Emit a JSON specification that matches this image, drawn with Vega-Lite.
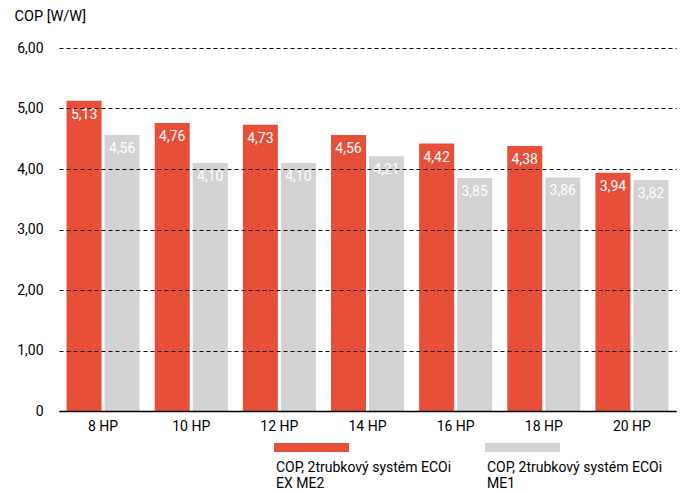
{
  "$schema": "https://vega.github.io/schema/vega-lite/v6.json",
  "width": 617,
  "height": 363,
  "autosize": "none",
  "padding": {"left": 59, "top": 48, "right": 7, "bottom": 80},
  "config": {
    "font": "Roboto",
    "view": {"stroke": null},
    "locale": {"number": {"decimal": ",", "thousands": " ", "grouping": [3], "currency": ["", " Kč"]}}
  },
  "data": {
    "values": [
      {"hp": "8 HP", "series": "COP, 2trubkový systém ECOi EX ME2", "cop": 5.13},
      {"hp": "8 HP", "series": "COP, 2trubkový systém ECOi ME1", "cop": 4.56},
      {"hp": "10 HP", "series": "COP, 2trubkový systém ECOi EX ME2", "cop": 4.76},
      {"hp": "10 HP", "series": "COP, 2trubkový systém ECOi ME1", "cop": 4.10},
      {"hp": "12 HP", "series": "COP, 2trubkový systém ECOi EX ME2", "cop": 4.73},
      {"hp": "12 HP", "series": "COP, 2trubkový systém ECOi ME1", "cop": 4.10},
      {"hp": "14 HP", "series": "COP, 2trubkový systém ECOi EX ME2", "cop": 4.56},
      {"hp": "14 HP", "series": "COP, 2trubkový systém ECOi ME1", "cop": 4.21},
      {"hp": "16 HP", "series": "COP, 2trubkový systém ECOi EX ME2", "cop": 4.42},
      {"hp": "16 HP", "series": "COP, 2trubkový systém ECOi ME1", "cop": 3.85},
      {"hp": "18 HP", "series": "COP, 2trubkový systém ECOi EX ME2", "cop": 4.38},
      {"hp": "18 HP", "series": "COP, 2trubkový systém ECOi ME1", "cop": 3.86},
      {"hp": "20 HP", "series": "COP, 2trubkový systém ECOi EX ME2", "cop": 3.94},
      {"hp": "20 HP", "series": "COP, 2trubkový systém ECOi ME1", "cop": 3.82}
    ]
  },
  "encoding": {
    "x": {
      "field": "hp", "type": "nominal",
      "sort": ["8 HP", "10 HP", "12 HP", "14 HP", "16 HP", "18 HP", "20 HP"],
      "scale": {"paddingInner": 0, "paddingOuter": 0},
      "axis": {
        "title": null, "labelAngle": 0, "labelFontSize": 14, "labelColor": "black",
        "labelPadding": 8, "ticks": false, "domainColor": "black", "domainWidth": 1.5, "zindex": 2
      }
    },
    "xOffset": {
      "field": "series", "type": "nominal",
      "sort": ["COP, 2trubkový systém ECOi EX ME2", "COP, 2trubkový systém ECOi ME1"],
      "scale": {"paddingInner": 0.079, "paddingOuter": 0.199}
    },
    "y": {
      "field": "cop", "type": "quantitative",
      "scale": {"domain": [0, 6], "nice": false},
      "axis": {
        "title": "COP [W/W]", "titleAngle": 0, "titleAlign": "left", "titleBaseline": "middle",
        "titleX": -45, "titleY": -32, "titleFontSize": 14.5, "titleFontWeight": "normal", "titleColor": "black",
        "values": [0, 1, 2, 3, 4, 5, 6], "format": ".2f",
        "labelExpr": "datum.value === 0 ? '0' : datum.label",
        "labelFontSize": 14, "labelColor": "black", "labelPadding": 16,
        "ticks": false, "domain": false,
        "grid": true, "gridColor": "black", "gridDash": [4, 3], "gridWidth": 1, "gridOpacity": 1,
        "zindex": 1
      }
    }
  },
  "layer": [
    {
      "mark": {"type": "bar"},
      "encoding": {
        "color": {
          "field": "series", "type": "nominal",
          "sort": ["COP, 2trubkový systém ECOi EX ME2", "COP, 2trubkový systém ECOi ME1"],
          "scale": {"range": ["#e84f38", "#d3d3d3"]},
          "legend": {
            "orient": "none", "legendX": 213, "legendY": 413,
            "direction": "horizontal", "columns": 2, "title": null,
            "symbolType": "M -1 -5.0 H 14.0 V -3.2 H -1 Z",
            "symbolSize": 100, "symbolStrokeWidth": 0, "symbolOpacity": 1,
            "labelOffset": -10, "labelLimit": 400, "labelFontSize": 14, "labelColor": "black",
            "labelBaseline": "middle",
            "columnPadding": 31,
            "labelExpr": "datum.label == 'COP, 2trubkový systém ECOi EX ME2' ? ['COP, 2trubkový systém ECOi', 'EX ME2'] : ['COP, 2trubkový systém ECOi', 'ME1']"
          }
        }
      }
    },
    {
      "mark": {"type": "text", "baseline": "top", "dy": 7, "color": "white", "fontSize": 14},
      "encoding": {
        "text": {"field": "cop", "type": "quantitative", "format": ".2f"}
      }
    }
  ]
}
